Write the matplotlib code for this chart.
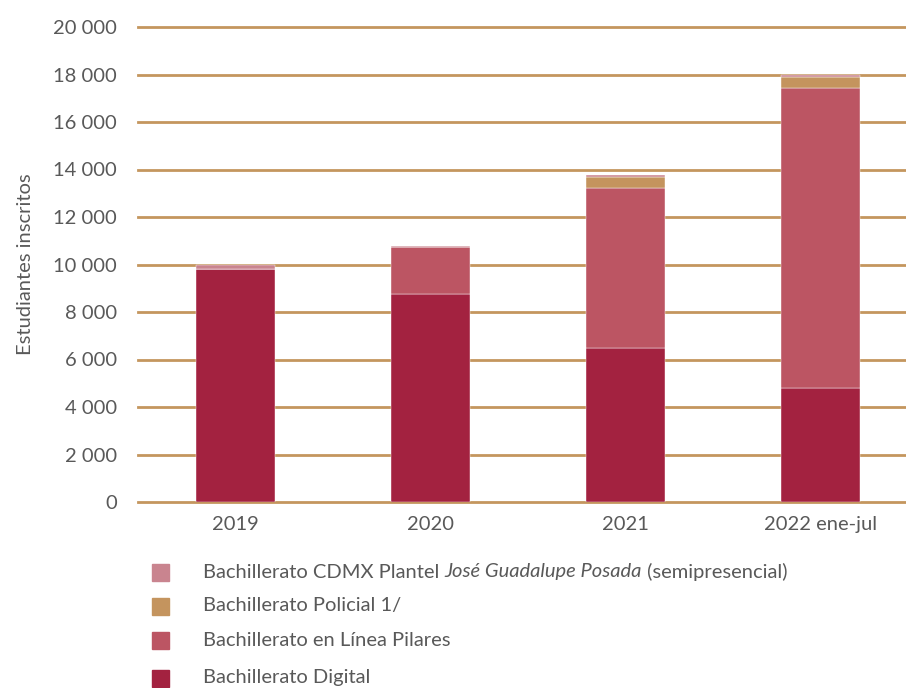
import matplotlib
matplotlib.use("Agg")
import matplotlib.pyplot as plt
from matplotlib.patches import Rectangle
from matplotlib.ticker import FuncFormatter

plt.rcParams['font.family'] = ['Lato', 'DejaVu Sans']

years = ['2019', '2020', '2021', '2022 ene-jul']
digital = [9800, 8760, 6480, 4800]
pilares = [0, 1990, 6750, 12640]
policial = [0, 0, 440, 460]
cdmx = [180, 40, 110, 70]

series = [
    ('Bachillerato Digital', digital, '#A32240'),
    ('Bachillerato en Línea Pilares', pilares, '#BC5563'),
    ('Bachillerato Policial 1/', policial, '#C4945E'),
    ('Bachillerato CDMX Plantel', cdmx, '#C9848F'),
]

text_color = '#595959'
grid_color = '#C4965E'
fs = 14.5

fig = plt.figure(figsize=(9.06, 6.88), dpi=100)
ax = fig.add_axes([138 / 906, 1 - 502 / 688, 1 - 138 / 906, 475 / 688])

x = range(len(years))
bottom = [0] * len(years)
for name, vals, color in series:
    ax.bar(x, vals, bottom=bottom, width=0.405, color=color,
           edgecolor='white', linewidth=0.3, zorder=3)
    bottom = [b + v for b, v in zip(bottom, vals)]

ax.set_ylim(0, 20000)
ax.set_xlim(-0.5, 3.44)
ax.set_yticks(range(0, 20001, 2000))
ax.yaxis.set_major_formatter(FuncFormatter(lambda v, p: f'{int(v):,}'.replace(',', ' ')))
ax.set_xticks(list(x))
ax.set_xticklabels(years)
ax.grid(axis='y', color=grid_color, linewidth=2, zorder=0)
for gl in ax.get_ygridlines():
    gl.set_clip_on(False)
ax.set_axisbelow(True)
for s in ax.spines.values():
    s.set_visible(False)
ax.tick_params(length=0, labelsize=fs, labelcolor=text_color)
ax.tick_params(axis='y', pad=15)
ax.tick_params(axis='x', pad=10)
ax.set_ylabel('Estudiantes inscritos', fontsize=fs, color=text_color, labelpad=14)

# legend, drawn by hand so one label can be partly italic
legend_rows = [
    (572, series[3][2]),
    (606, series[2][2]),
    (640, series[1][2]),
    (678, series[0][2]),
]
for ypx, color in legend_rows:
    fig.patches.append(Rectangle((152 / 906, 1 - (ypx + 9) / 688), 17 / 906, 17 / 688,
                                 transform=fig.transFigure, color=color))

tx = 203 / 906
fig.canvas.draw()
renderer = fig.canvas.get_renderer()
parts = [('Bachillerato CDMX Plantel ', 'normal'),
         ('José Guadalupe Posada', 'italic'),
         (' (semipresencial)', 'normal')]
cur = tx
for txt, style in parts:
    t = fig.text(cur, 1 - 572 / 688, txt, fontsize=fs, color=text_color,
                 style=style, va='center', ha='left')
    bb = t.get_window_extent(renderer)
    cur += bb.width / fig.bbox.width

fig.text(tx, 1 - 606 / 688, 'Bachillerato Policial 1/', fontsize=fs, color=text_color, va='center')
fig.text(tx, 1 - 640 / 688, 'Bachillerato en Línea Pilares', fontsize=fs, color=text_color, va='center')
fig.text(tx, 1 - 678 / 688, 'Bachillerato Digital', fontsize=fs, color=text_color, va='center')

fig.savefig('out.png', dpi=100)
